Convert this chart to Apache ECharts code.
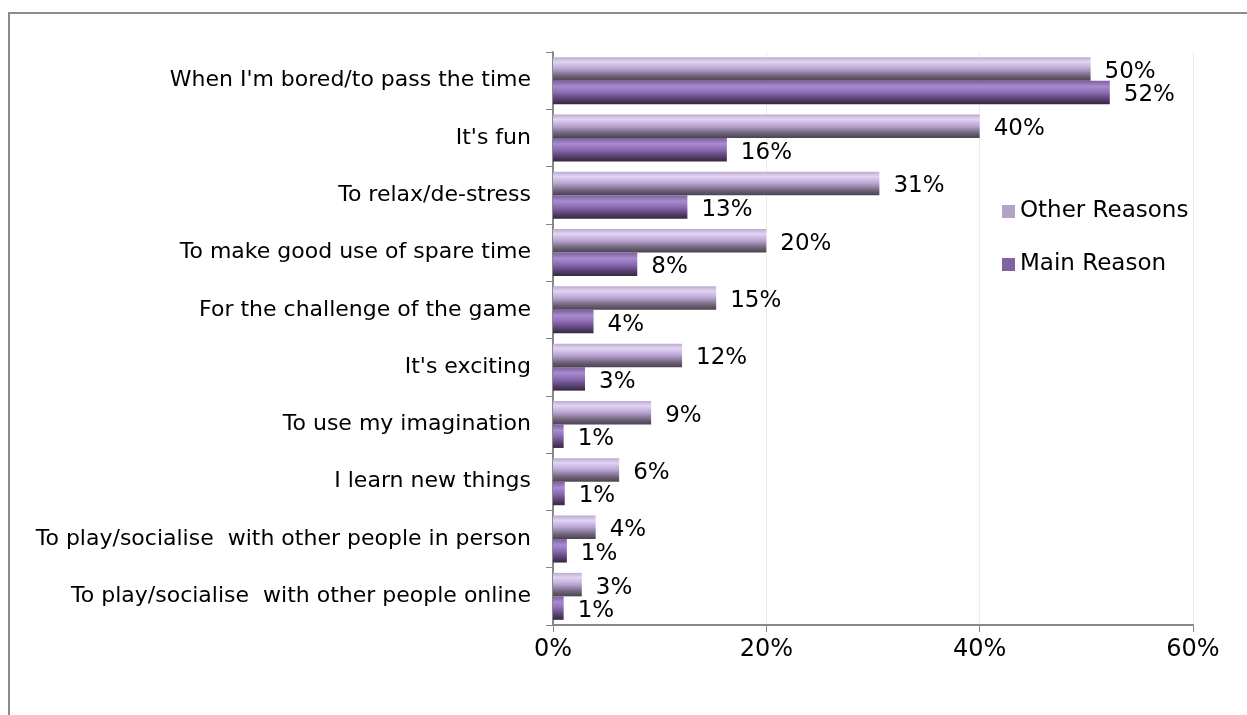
<!DOCTYPE html>
<html>
<head>
<meta charset="utf-8">
<script src="https://cdn.jsdelivr.net/npm/echarts@6/dist/echarts.min.js"></script>
<style>
html,body{margin:0;padding:0;background:#fff;}
#chart{width:1247px;height:715px;}
</style>
</head>
<body>
<div id="chart"></div>
<script>
const categories = [
  "When I'm bored/to pass the time",
  "It's fun",
  "To relax/de-stress",
  "To make good use of spare time",
  "For the challenge of the game",
  "It's exciting",
  "To use my imagination",
  "I learn new things",
  "To play/socialise  with other people in person",
  "To play/socialise  with other people online"
];
const otherReasons = [50.4, 40.0, 30.6, 20.0, 15.3, 12.1, 9.2, 6.2, 4.0, 2.7];
const mainReason = [52.2, 16.3, 12.6, 7.9, 3.8, 3.0, 1.0, 1.1, 1.3, 1.0];
const xTicks = [0, 20, 40, 60];

const FONT = "'DejaVu Sans', sans-serif";
const chart = echarts.init(document.getElementById('chart'));

const otherGrad = new echarts.graphic.LinearGradient(0, 0, 0, 1, [
  {offset: 0, color: '#bcaad0'},
  {offset: 0.2, color: '#e2d4f3'},
  {offset: 0.5, color: '#b9a3d2'},
  {offset: 0.8, color: '#6e6278'},
  {offset: 1, color: '#4a4250'}
]);
const mainGrad = new echarts.graphic.LinearGradient(0, 0, 0, 1, [
  {offset: 0, color: '#7c5f9c'},
  {offset: 0.25, color: '#a98bcf'},
  {offset: 0.5, color: '#8c6bb4'},
  {offset: 0.8, color: '#55406e'},
  {offset: 1, color: '#36283f'}
]);

const labelCfg = {
  show: true,
  position: 'right',
  distance: 14,
  offset: [0, 3],
  color: '#000',
  fontFamily: FONT,
  fontSize: 23,
  formatter: p => Math.round(p.value) + '%'
};

chart.setOption({
  animation: false,
  backgroundColor: '#fff',
  graphic: [{
    type: 'rect',
    shape: {x: 9, y: 13, width: 1300, height: 800},
    style: {fill: 'none', stroke: '#8c8c8c', lineWidth: 2},
    z: -1
  }],
  grid: {left: 553, right: 54, top: 52, bottom: 90, containLabel: false},
  legend: {
    orient: 'vertical',
    left: 997,
    top: 195,
    itemWidth: 13,
    itemHeight: 13,
    itemGap: 30,
    icon: 'rect',
    textStyle: {fontFamily: FONT, fontSize: 23, color: '#000'},
    data: [
      {name: 'Other Reasons', itemStyle: {color: '#b3a2c7'}},
      {name: 'Main Reason', itemStyle: {color: '#8064a2'}}
    ]
  },
  xAxis: {
    type: 'value',
    min: xTicks[0], max: xTicks[xTicks.length - 1], interval: xTicks[1] - xTicks[0],
    axisLine: {show: true, lineStyle: {color: '#888', width: 2}},
    axisTick: {show: true, length: 7, lineStyle: {color: '#888'}},
    splitLine: {show: true, lineStyle: {color: '#ececec'}},
    axisLabel: {
      margin: 13,
      fontFamily: FONT, fontSize: 24, color: '#000',
      formatter: v => v + '%'
    }
  },
  yAxis: {
    type: 'category',
    inverse: true,
    data: categories,
    axisLine: {show: true, lineStyle: {color: '#888', width: 2}},
    axisTick: {show: true, length: 7, lineStyle: {color: '#888'}},
    axisLabel: {margin: 22, fontFamily: FONT, fontSize: 22, color: '#000'}
  },
  series: [
    {
      name: 'Other Reasons', type: 'bar', data: otherReasons,
      barGap: '0%', barCategoryGap: '18%',
      itemStyle: {color: otherGrad},
      label: labelCfg
    },
    {
      name: 'Main Reason', type: 'bar', data: mainReason,
      barGap: '0%', barCategoryGap: '18%',
      itemStyle: {color: mainGrad},
      label: labelCfg
    }
  ]
});
</script>
</body>
</html>
